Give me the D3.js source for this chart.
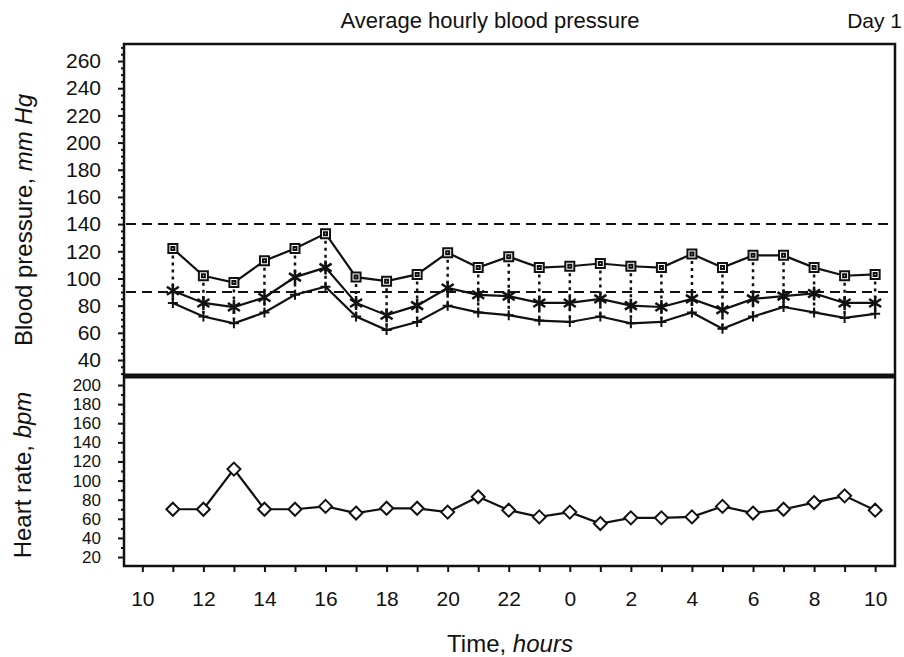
<!DOCTYPE html>
<html>
<head>
<meta charset="utf-8">
<script src="https://cdn.jsdelivr.net/npm/d3@7"></script>
<style>
    body { margin: 0; background: #fff; }
    text { font-family: "Liberation Sans", Arial, sans-serif; fill: #111; }
</style>
</head>
<body>
<div id="chart"></div>
<script>

// hours since midnight of day 1 (25 = 1 o'clock next day)
let hours = [11, 12, 13, 14, 15, 16, 17, 18, 19, 20, 21, 22, 23, 24, 25, 26, 27, 28, 29, 30, 31, 32, 33, 34];
let systolic = [122, 102, 97, 113, 122, 133, 101, 98, 103, 119, 108, 116, 108, 109, 111, 109, 108, 118, 108, 117, 117, 108, 102, 103];
let meanBp = [91, 82, 79, 86, 101, 108, 82, 73, 80, 93, 88, 87, 82, 82, 85, 80, 79, 85, 77, 85, 87, 89, 82, 82];
let diastolic = [82, 72, 67, 75, 88, 94, 72, 62, 68, 80, 75, 73, 69, 68, 72, 67, 68, 75, 63, 72, 79, 75, 71, 74];
let heartRate = [70, 70, 112, 70, 70, 73, 66, 71, 71, 67, 83, 69, 62, 67, 55, 61, 61, 62, 73, 66, 70, 77, 84, 69];

let bpTicks = [40, 60, 80, 100, 120, 140, 160, 180, 200, 220, 240, 260];
let bpMinor = [30, 35, 45, 50, 55, 65, 70, 75, 85, 90, 95, 105, 110, 115, 125, 130, 135, 145, 150, 155, 165, 170, 175,
    185, 190, 195, 205, 210, 215, 225, 230, 235, 245, 250, 255, 265, 270];
let hrTicks = [20, 40, 60, 80, 100, 120, 140, 160, 180, 200];
let hrMinor = [30, 50, 70, 90, 110, 130, 150, 170, 190];
let hourTicks = [10, 12, 14, 16, 18, 20, 22, 24, 26, 28, 30, 32, 34];
let hourMinor = [11, 13, 15, 17, 19, 21, 23, 25, 27, 29, 31, 33];
let refLines = [140, 90];

let width = 904, height = 657;

let svg = d3.select('#chart')
    .append('svg')
    .attr('width', width)
    .attr('height', height);

let x = d3.scaleLinear().domain([9.4, 34.65]).range([124, 895]);
let yBp = d3.scaleLinear().domain([27.5, 271.8]).range([377, 45]);
let yHr = d3.scaleLinear().domain([10.6, 208.4]).range([566, 377]);

// frame
svg.append('rect')
    .attr('x', 124).attr('y', 44)
    .attr('width', 895 - 124).attr('height', 566 - 44)
    .attr('fill', 'none')
    .attr('stroke', '#111')
    .attr('stroke-width', 2.5);

svg.append('line')
    .attr('x1', 124).attr('x2', 895)
    .attr('y1', 376).attr('y2', 376)
    .attr('stroke', '#111')
    .attr('stroke-width', 5);

// y axes
svg.append('g')
    .attr('transform', 'translate(124,0)')
    .call(d3.axisLeft(yBp).tickValues(bpTicks).tickSize(6).tickPadding(17));

svg.append('g')
    .attr('class', 'hr-axis')
    .attr('transform', 'translate(124,0)')
    .call(d3.axisLeft(yHr).tickValues(hrTicks).tickSize(6).tickPadding(17));

// minor ticks
svg.append('g')
    .attr('transform', 'translate(124,0)')
    .call(d3.axisLeft(yBp).tickValues(bpMinor).tickSize(3).tickFormat(''));
svg.append('g')
    .attr('transform', 'translate(124,0)')
    .call(d3.axisLeft(yHr).tickValues(hrMinor).tickSize(3).tickFormat(''));

// x axis
svg.append('g')
    .attr('transform', 'translate(0,566)')
    .call(d3.axisBottom(x)
        .tickValues(hourTicks)
        .tickSize(6)
        .tickPadding(19)
        .tickFormat(d => d % 24));

svg.append('g')
    .attr('transform', 'translate(0,566)')
    .call(d3.axisBottom(x).tickValues(hourMinor).tickSize(6).tickFormat(''));

svg.selectAll('.domain').remove();
svg.selectAll('.tick line').attr('stroke', '#111').attr('stroke-width', 2);
svg.selectAll('.tick text')
    .attr('fill', '#111')
    .style('font-size', '21px');
svg.selectAll('.hr-axis .tick text')
    .style('font-size', '17px');

// reference lines
svg.append('g')
    .selectAll('line')
    .data(refLines)
    .enter().append('line')
    .attr('x1', 126).attr('x2', 890)
    .attr('y1', d => yBp(d)).attr('y2', d => yBp(d))
    .attr('stroke', '#111')
    .attr('stroke-width', 2)
    .attr('stroke-dasharray', '10,6');

// vertical dotted connectors
svg.append('g')
    .selectAll('line')
    .data(hours)
    .enter().append('line')
    .attr('x1', d => x(d)).attr('x2', d => x(d))
    .attr('y1', (d, i) => yBp(systolic[i]))
    .attr('y2', (d, i) => yBp(diastolic[i]))
    .attr('stroke', '#111')
    .attr('stroke-width', 2.5)
    .attr('stroke-dasharray', '3,4');

function drawLine(values, yScale) {
    let line = d3.line()
        .x((d, i) => x(hours[i]))
        .y(d => yScale(d));
    svg.append('path')
        .datum(values)
        .attr('d', line)
        .attr('fill', 'none')
        .attr('stroke', '#111')
        .attr('stroke-width', 2.2);
}

drawLine(systolic, yBp);
drawLine(meanBp, yBp);
drawLine(diastolic, yBp);
drawLine(heartRate, yHr);

// markers
svg.append('g')
    .selectAll('path')
    .data(systolic)
    .enter().append('path')
    .attr('transform', (d, i) => 'translate(' + x(hours[i]) + ',' + yBp(d) + ')')
    .attr('d', 'M-4.5,-4.5H4.5V4.5H-4.5Z M-1.5,-1.5H1.5V1.5H-1.5Z')
    .attr('fill', '#fff')
    .attr('stroke', '#111')
    .attr('stroke-width', 2);

svg.append('g')
    .selectAll('path')
    .data(meanBp)
    .enter().append('path')
    .attr('transform', (d, i) => 'translate(' + x(hours[i]) + ',' + yBp(d) + ')')
    .attr('d', 'M0,-7V7 M-6,-4L6,4 M-6,4L6,-4')
    .attr('fill', 'none')
    .attr('stroke', '#111')
    .attr('stroke-width', 2.5);

svg.append('g')
    .selectAll('path')
    .data(diastolic)
    .enter().append('path')
    .attr('transform', (d, i) => 'translate(' + x(hours[i]) + ',' + yBp(d) + ')')
    .attr('d', 'M0,-5V5 M-5,0H5')
    .attr('fill', 'none')
    .attr('stroke', '#111')
    .attr('stroke-width', 2);

svg.append('g')
    .selectAll('path')
    .data(heartRate)
    .enter().append('path')
    .attr('transform', (d, i) => 'translate(' + x(hours[i]) + ',' + yHr(d) + ')')
    .attr('d', 'M0,-6.5L6.5,0L0,6.5L-6.5,0Z')
    .attr('fill', '#fff')
    .attr('stroke', '#111')
    .attr('stroke-width', 2);

// titles
svg.append('text')
    .attr('x', 490).attr('y', 28)
    .attr('text-anchor', 'middle')
    .style('font-size', '22px')
    .text('Average hourly blood pressure');

svg.append('text')
    .attr('x', 902).attr('y', 28)
    .attr('text-anchor', 'end')
    .style('font-size', '21px')
    .text('Day 1');

let bpLabel = svg.append('text')
    .attr('transform', 'translate(32,220) rotate(-90)')
    .attr('text-anchor', 'middle')
    .style('font-size', '24px');
bpLabel.append('tspan').text('Blood pressure, ');
bpLabel.append('tspan').style('font-style', 'italic').text('mm Hg');

let hrLabel = svg.append('text')
    .attr('transform', 'translate(31,475) rotate(-90)')
    .attr('text-anchor', 'middle')
    .style('font-size', '24px');
hrLabel.append('tspan').text('Heart rate, ');
hrLabel.append('tspan').style('font-style', 'italic').text('bpm');

let timeLabel = svg.append('text')
    .attr('x', 510).attr('y', 652)
    .attr('text-anchor', 'middle')
    .style('font-size', '24px');
timeLabel.append('tspan').text('Time, ');
timeLabel.append('tspan').style('font-style', 'italic').text('hours');

</script>
</body>
</html>
